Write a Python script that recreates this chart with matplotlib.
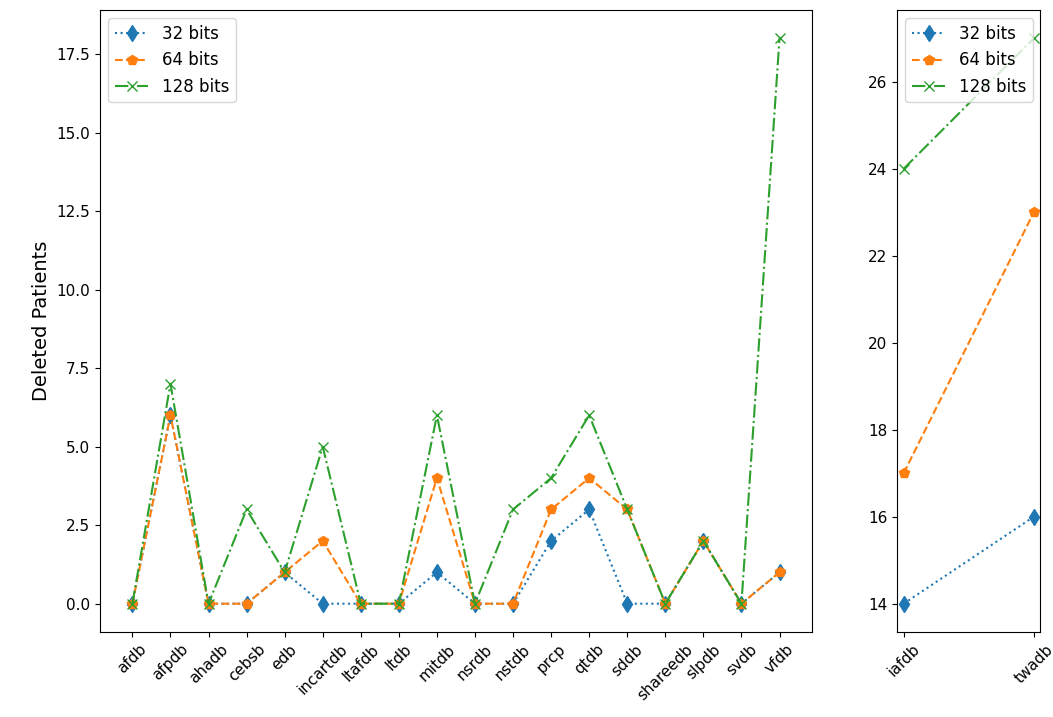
import matplotlib
matplotlib.use("Agg")
import matplotlib.pyplot as plt

cats_left = ["afdb", "afpdb", "ahadb", "cebsb", "edb", "incartdb", "ltafdb", "ltdb",
             "mitdb", "nsrdb", "nstdb", "prcp", "qtdb", "sddb", "shareedb", "slpdb",
             "svdb", "vfdb"]
b32_left = [0, 6, 0, 0, 1, 0, 0, 0, 1, 0, 0, 2, 3, 0, 0, 2, 0, 1]
b64_left = [0, 6, 0, 0, 1, 2, 0, 0, 4, 0, 0, 3, 4, 3, 0, 2, 0, 1]
b128_left = [0, 7, 0, 3, 1, 5, 0, 0, 6, 0, 3, 4, 6, 3, 0, 2, 0, 18]

cats_right = ["iafdb", "twadb"]
b32_right = [14, 16]
b64_right = [17, 23]
b128_right = [24, 27]

fig = plt.figure(figsize=(10.53, 7.17), dpi=100)
ax1 = fig.add_axes([0.095, 0.1186, 0.676, 0.8674])
ax2 = fig.add_axes([0.852, 0.1186, 0.136, 0.8674])

styles = [
    ("32 bits", ":", "d", "C0", 8),
    ("64 bits", "--", "p", "C1", 7),
    ("128 bits", "-.", "x", "C2", 7),
]

for ax, cats, series in [
    (ax1, cats_left, [b32_left, b64_left, b128_left]),
    (ax2, cats_right, [b32_right, b64_right, b128_right]),
]:
    for (lab, ls, mk, col, ms), vals in zip(styles, series):
        ax.plot(cats, vals, linestyle=ls, marker=mk, color=col, label=lab, markersize=ms)
    ax.legend(loc="upper left", fontsize=12)
    ax.tick_params(axis="x", labelrotation=45, labelsize=11)
    ax.tick_params(axis="y", labelsize=11)

ax1.set_ylabel("Deleted Patients", fontsize=14)

fig.savefig("out.png", dpi=100)
